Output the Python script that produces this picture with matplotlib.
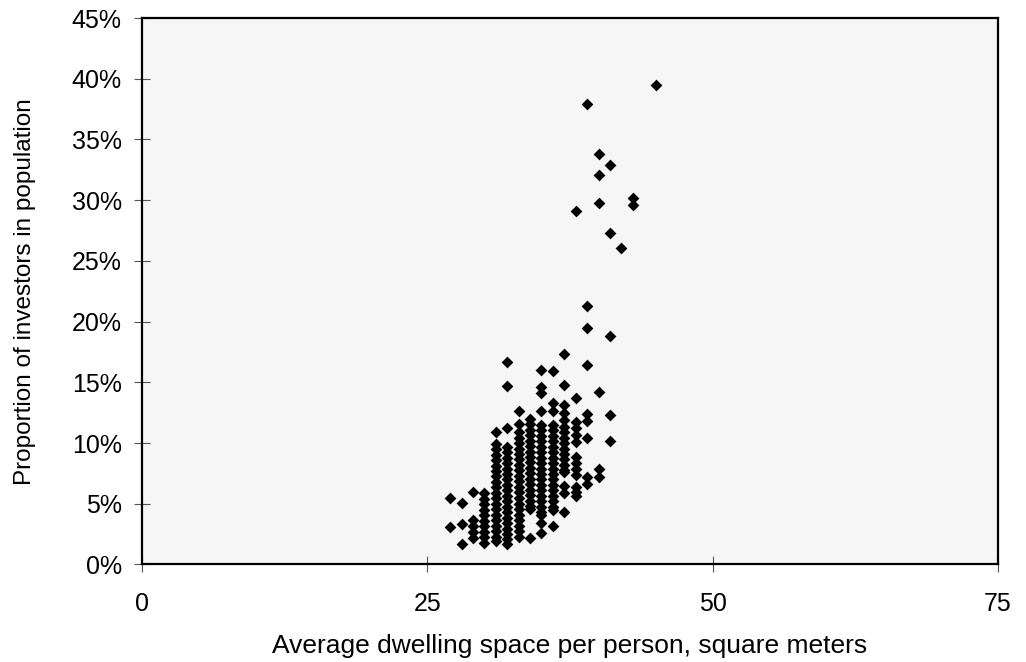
import matplotlib
matplotlib.use("Agg")
import matplotlib.pyplot as plt
from matplotlib.ticker import FuncFormatter

# average dwelling space per person (m2) -> proportion of investors (%) per region
col_27 = [5.5, 3.1]
col_28 = [5.1, 3.35, 1.65]
col_29 = [6.0, 3.65, 3.15, 2.65, 2.2]
col_30 = [5.85, 5.4, 4.95, 4.5, 4.05, 3.6, 3.15, 2.7, 2.25, 1.8]
col_31 = [10.9, 9.95, 9.5, 9.05, 8.6, 8.15, 7.7, 7.25, 6.8, 6.35, 5.9, 5.45,
          5.0, 4.55, 4.1, 3.65, 3.2, 2.75, 2.3, 1.9]
col_32 = [16.7, 14.7, 11.2, 9.7, 9.25, 8.8, 8.35, 7.9, 7.45, 7.0, 6.55, 6.1,
          5.65, 5.2, 4.75, 4.3, 3.85, 3.4, 2.95, 2.5, 2.1, 1.7]
col_33 = [12.6, 11.6, 10.9, 10.45, 10.0, 9.55, 9.1, 8.65, 8.2, 7.75, 7.3, 6.85,
          6.4, 5.95, 5.45, 5.0, 4.55, 4.1, 3.65, 3.2, 2.75, 2.3]
col_34 = [12.0, 11.55, 11.1, 10.65, 10.2, 9.75, 9.3, 8.85, 8.4, 7.95, 7.5, 7.05,
          6.6, 6.15, 5.7, 5.25, 4.8, 4.55, 2.2]
col_35 = [16.0, 14.6, 14.1, 12.6, 11.5, 11.05, 10.6, 10.15, 9.7, 9.25, 8.8, 8.35,
          7.9, 7.45, 7.0, 6.55, 6.1, 5.65, 5.2, 4.75, 4.3, 4.05, 3.4, 2.6]
col_36 = [15.9, 13.3, 12.6, 11.5, 11.05, 10.6, 10.15, 9.7, 9.25, 8.8, 8.35, 7.9,
          7.45, 7.0, 6.55, 6.1, 5.65, 5.2, 4.75, 4.5, 3.2]
col_37 = [17.3, 14.8, 13.1, 12.5, 11.9, 11.35, 10.9, 10.45, 10.0, 9.55, 9.1, 8.65,
          8.2, 7.75, 7.6, 6.5, 5.9, 4.35]
col_38 = [29.1, 13.7, 11.75, 11.2, 10.65, 10.1, 8.85, 8.35, 7.85, 7.35, 6.4, 6.0, 5.6]
col_39 = [37.9, 21.3, 19.5, 16.4, 12.4, 11.8, 10.4, 7.2, 6.6]
col_40 = [33.8, 32.1, 29.8, 14.2, 7.9, 7.2]
col_41 = [32.9, 27.3, 18.85, 12.3, 10.2]
col_42 = [26.1]
col_43 = [30.2, 29.6]
col_45 = [39.5]

columns = {27: col_27, 28: col_28, 29: col_29, 30: col_30, 31: col_31, 32: col_32,
           33: col_33, 34: col_34, 35: col_35, 36: col_36, 37: col_37, 38: col_38,
           39: col_39, 40: col_40, 41: col_41, 42: col_42, 43: col_43, 45: col_45}

x_vals, y_vals = [], []
for space, shares in columns.items():
    for s in shares:
        x_vals.append(space)
        y_vals.append(s / 100)

plt.rcParams['font.family'] = ['Liberation Sans', 'DejaVu Sans']

fig = plt.figure(figsize=(10.26, 6.62), dpi=100)
ax = fig.add_axes([0.1384, 0.1473, 0.8343, 0.8255])
ax.set_facecolor('#f6f6f6')

ax.scatter(x_vals, y_vals, marker='D', s=36, color='black', linewidths=0, zorder=3)

ax.set_xlim(0, 75)
ax.set_ylim(0, 0.45)
ax.set_xticks([0, 25, 50, 75])
ax.set_yticks([i * 0.05 for i in range(10)])
ax.yaxis.set_major_formatter(FuncFormatter(lambda v, _: f"{v * 100:.0f}%"))

for sp in ax.spines.values():
    sp.set_linewidth(1.6)
    sp.set_color('black')

ax.tick_params(axis='both', direction='inout', length=11, width=0.8, color='#555555',
               labelsize=18)
ax.tick_params(axis='x', pad=14)
ax.tick_params(axis='y', pad=9)

ax.set_xlabel("Average dwelling space per person, square meters", fontsize=19, labelpad=13)
ax.set_ylabel("Proportion of investors in population", fontsize=17.5, labelpad=26)

fig.savefig("out.png", dpi=100)
